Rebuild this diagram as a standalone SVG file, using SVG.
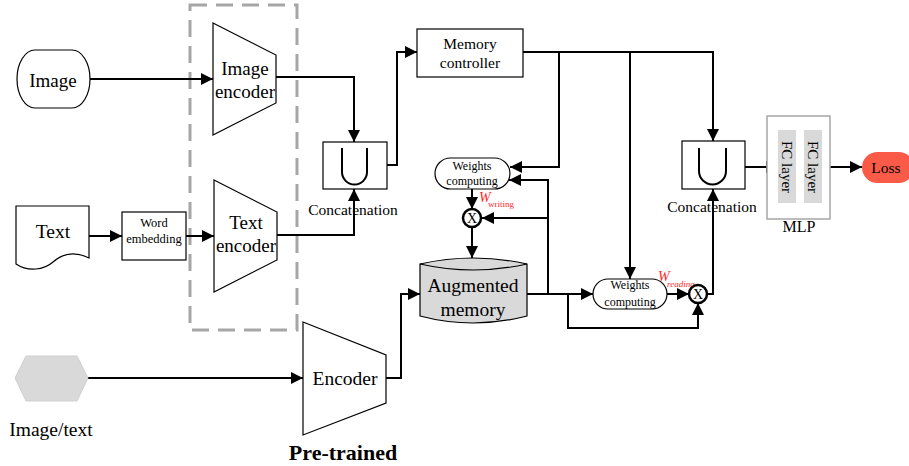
<svg xmlns="http://www.w3.org/2000/svg" width="909" height="466" viewBox="0 0 909 466">
<defs>
<marker id="ah" markerUnits="userSpaceOnUse" markerWidth="14" markerHeight="12" refX="12" refY="6" orient="auto">
<path d="M0,0 L12,6 L0,12 Z" fill="#000"/>
</marker>
<style>
.t{font-family:"Liberation Serif","Times New Roman",serif;fill:#000;text-anchor:middle}
.s{fill:#fff;stroke:#000;stroke-width:1.2}
.c{fill:none;stroke:#000;stroke-width:2;marker-end:url(#ah)}
.l{fill:none;stroke:#000;stroke-width:2}
.x{fill:#fff;stroke:#000;stroke-width:2.5}
.red{font-family:"Liberation Serif","Times New Roman",serif;fill:#ff1f1f}
</style>
</defs>
<rect width="909" height="466" fill="#fff"/>

<g id="pretrained-box">
<rect x="190" y="5" width="107" height="325" fill="none" stroke="#a6a6a6" stroke-width="3" stroke-dasharray="17,9"/>
</g>

<g id="connectors">
<path class="c" d="M90,79 H213"/>
<path class="c" d="M89,236 H122"/>
<path class="c" d="M186,236 H214"/>
<path class="c" d="M276,77 H354 V142"/>
<path class="c" d="M277,235 H354 V189"/>
<path class="c" d="M387,165 H397 V52 H417"/>
<path class="c" d="M88,378 H303"/>
<path class="c" d="M386,378 H401 V294 H420"/>
<path class="c" d="M523,52 H713 V141"/>
<path class="c" d="M559,52 V167 H510"/>
<path class="c" d="M630,52 V279"/>
<path class="c" d="M527,294 H593"/>
<path class="c" d="M548,294 V180 H509"/>
<path class="c" d="M548,218 H482"/>
<path class="c" d="M472,189 V209"/>
<path class="c" d="M472,227 V258"/>
<path class="c" d="M568,294 V328 H698 V303"/>
<path class="c" d="M667,294 H689"/>
<path class="c" d="M707,294 H713 V189"/>
<path class="c" d="M745,167 H778"/>
<path class="c" d="M822,167 H862"/>
</g>

<g id="image">
<rect class="s" x="17" y="50" width="73" height="58" rx="18" ry="29"/>
<text class="t" x="53" y="87" font-size="19">Image</text>
</g>

<g id="text">
<path class="s" d="M16,206 H89 V258 C73,250 62,254 53,262 C44,270 28,272 16,264 Z"/>
<text class="t" x="53" y="238" font-size="19.5">Text</text>
</g>

<g id="word-embedding">
<rect class="s" x="122" y="212" width="64" height="48"/>
<text class="t" x="154" y="227" font-size="12.5">Word</text>
<text class="t" x="154" y="243" font-size="12.5">embedding</text>
</g>

<g id="image-encoder">
<path class="s" d="M213,23 L276,55 L276,103 L213,135 Z"/>
<text class="t" x="245" y="75" font-size="19">Image</text>
<text class="t" x="245" y="98" font-size="19">encoder</text>
</g>

<g id="text-encoder">
<path class="s" d="M214,180 L277,212 L277,260 L214,292 Z"/>
<text class="t" x="246" y="229" font-size="19">Text</text>
<text class="t" x="246" y="252" font-size="19">encoder</text>
</g>

<g id="concat1">
<rect class="s" x="323" y="142" width="64" height="47"/>
<path d="M342,148 V172 A12.5,12.5 0 0 0 367,172 V148" fill="none" stroke="#000" stroke-width="2"/>
<text class="t" x="353" y="215" font-size="15.5">Concatenation</text>
</g>

<g id="memory-controller">
<rect class="s" x="417" y="29" width="106" height="48"/>
<text class="t" x="470" y="49" font-size="15.5">Memory</text>
<text class="t" x="470" y="68" font-size="15.5">controller</text>
</g>

<g id="weights-computing-1">
<rect class="s" x="435" y="158" width="75" height="31" rx="15.5"/>
<text class="t" x="472" y="170" font-size="12">Weights</text>
<text class="t" x="472" y="185" font-size="12">computing</text>
</g>

<g id="w-writing">
<text class="red" x="479" y="202" font-size="14" font-style="italic">W</text>
<text class="red" x="488" y="207" font-size="9">writing</text>
</g>

<g id="mult1">
<circle class="x" cx="472" cy="218" r="9"/>
<text class="t" x="472" y="223" font-size="14">X</text>
</g>

<g id="augmented-memory">
<path d="M420,264 Q473,252 527,264 V316 Q473,330 420,316 Z" fill="#d9d9d9" stroke="#000" stroke-width="1.2"/>
<path d="M420,264 Q473,276 527,264" fill="none" stroke="#000" stroke-width="1.2"/>
<text class="t" x="473" y="292" font-size="19.5">Augmented</text>
<text class="t" x="473" y="316" font-size="19.5">memory</text>
</g>

<g id="weights-computing-2">
<rect class="s" x="593" y="279" width="74" height="30" rx="15"/>
<text class="t" x="630" y="289" font-size="12">Weights</text>
<text class="t" x="630" y="306" font-size="12">computing</text>
</g>

<g id="w-reading">
<text class="red" x="658" y="281" font-size="14" font-style="italic">W</text>
<text class="red" x="667" y="287" font-size="9" font-style="italic">reading</text>
</g>

<g id="mult2">
<circle class="x" cx="698" cy="294" r="9"/>
<text class="t" x="698" y="299" font-size="14">X</text>
</g>

<g id="concat2">
<rect class="s" x="682" y="141" width="63" height="48"/>
<path d="M699,148 V171 A13.5,13.5 0 0 0 726,171 V148" fill="none" stroke="#000" stroke-width="2"/>
<text class="t" x="712" y="212" font-size="15.5">Concatenation</text>
</g>

<g id="mlp">
<rect x="767" y="116" width="63" height="103" fill="#fff" stroke="#a6a6a6" stroke-width="1.5"/>
<rect x="778" y="130" width="18" height="73" fill="#d9d9d9"/>
<rect x="804" y="130" width="18" height="73" fill="#d9d9d9"/>
<text class="t" font-size="15" transform="translate(782,167) rotate(90)">FC layer</text>
<text class="t" font-size="15" transform="translate(808,167) rotate(90)">FC layer</text>
<text class="t" x="799" y="232" font-size="16">MLP</text>
</g>

<g id="loss">
<rect x="862" y="152" width="52" height="31" rx="15.5" fill="#fa5a48"/>
<text class="t" x="886" y="173" font-size="15.5">Loss</text>
</g>

<g id="image-text">
<path d="M15,378 L26,356 L77,356 L88,378 L77,401 L26,401 Z" fill="#d9d9d9" stroke="#cfcfcf" stroke-width="1"/>
<text class="t" x="51" y="436" font-size="19.5">Image/text</text>
</g>

<g id="encoder">
<path class="s" d="M303,322 L386,355 L386,403 L303,435 Z"/>
<text class="t" x="345" y="385" font-size="19.5">Encoder</text>
<text class="t" x="343" y="460" font-size="22" font-weight="bold">Pre-trained</text>
</g>
</svg>
